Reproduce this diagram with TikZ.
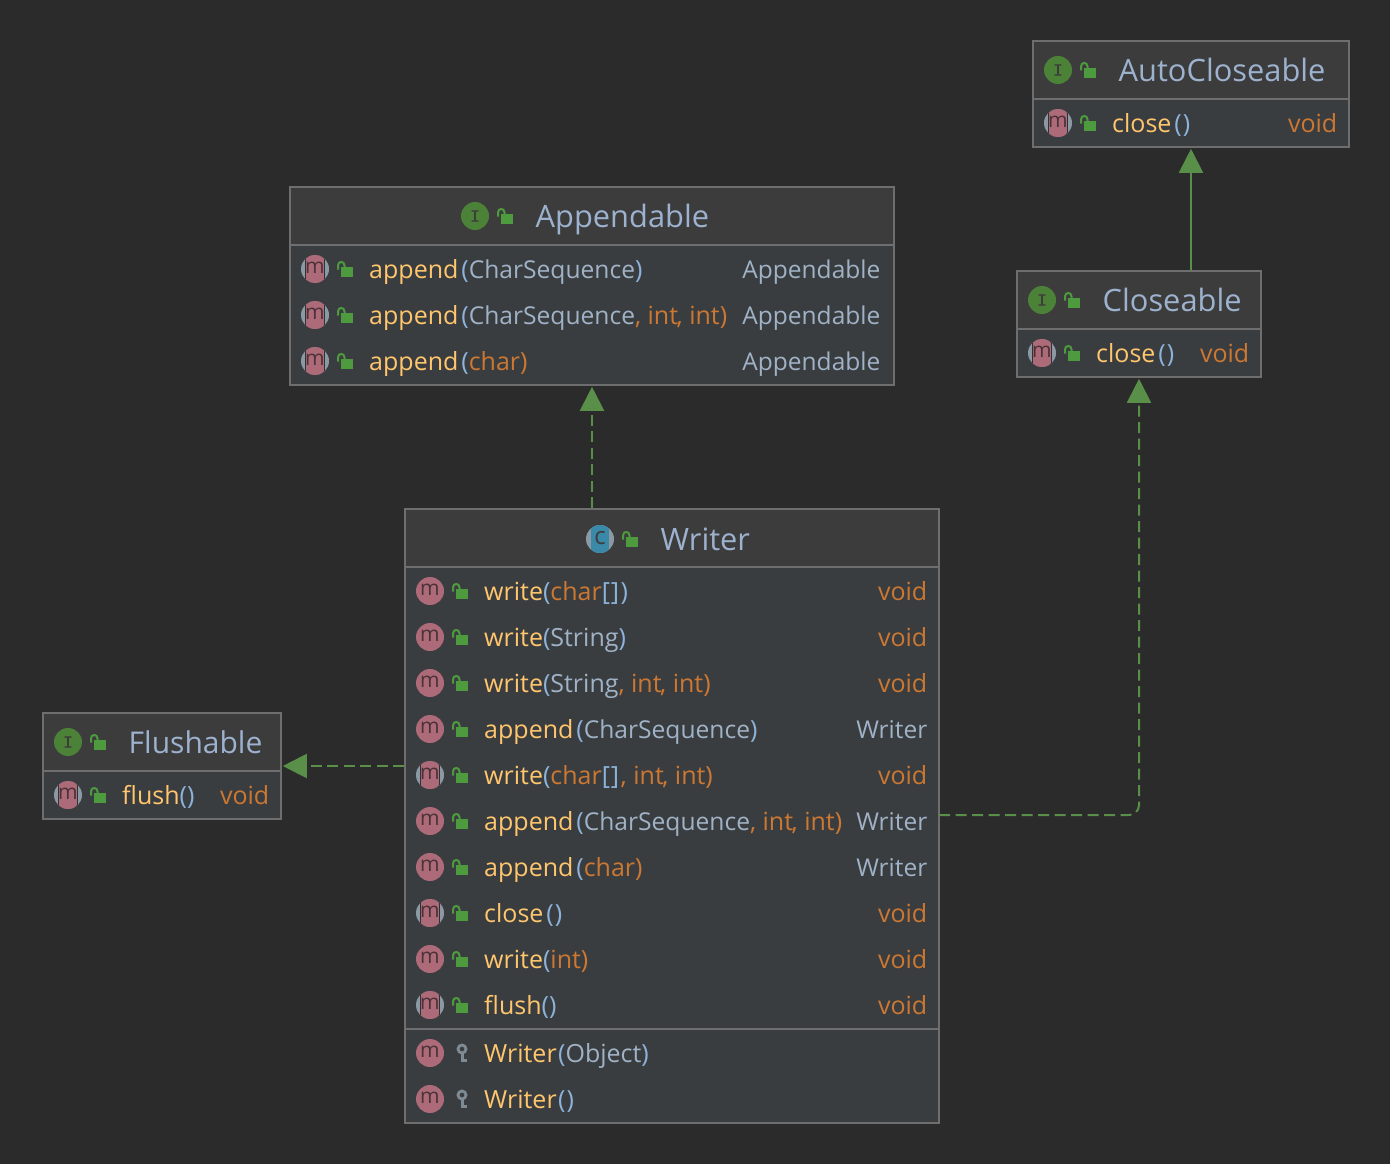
\documentclass[tikz,border=0pt]{standalone}
\usepackage{fontspec}
\setmainfont{Open Sans}
\newfontfamily\iconfont{Liberation Mono}[FakeBold=0.6]
\usepackage{tikz}
\usetikzlibrary{arrows.meta, calc}
\definecolor{canvasbg}{HTML}{2B2B2B}
\definecolor{headbg}{HTML}{3C3C3C}
\definecolor{bodybg}{HTML}{3A3D40}
\definecolor{boxline}{HTML}{6E6E6E}
\definecolor{titleblue}{HTML}{9DB2CE}
\definecolor{methodyellow}{HTML}{FFC66D}
\definecolor{typeorange}{HTML}{CC7832}
\definecolor{paramgray}{HTML}{A0B2C6}
\definecolor{parenblue}{HTML}{8DB3DA}
\definecolor{rowpink}{HTML}{AD6A78}
\definecolor{letterdark}{HTML}{4A3238}
\definecolor{ifacegreen}{HTML}{4C8238}
\definecolor{lockgreen}{HTML}{4E9A3E}
\definecolor{ringgray}{HTML}{8B99A4}
\definecolor{classteal}{HTML}{3A89A9}
\definecolor{keygray}{HTML}{7F8B94}
\definecolor{edgegreen}{HTML}{5A8F4A}
\tikzset{
  fit width/.code 2 args={\pgfmathsetmacro\boxw{#2-#1}\tikzset{minimum width=\boxw pt}},
  titletext/.style={anchor=base west, inner sep=0pt, text=titleblue,
    font=\fontsize{30.8}{36}\selectfont},
  membertext/.style={anchor=base west, inner sep=0pt, text=paramgray,
    font=\fontsize{25}{30}\selectfont},
  returntext/.style={anchor=base east, inner sep=0pt,
    font=\fontsize{25}{30}\selectfont},
  iconletter/.style={inner sep=0pt, font=\iconfont\fontsize{#1}{#1}\selectfont},
  iconround/.style={inner sep=0pt, font=\fontsize{#1}{#1}\selectfont},
  umlbox/.style={rectangle, draw=boxline, line width=1.6pt, inner sep=0pt},
  realizes/.style={-{Triangle[length=24pt,width=24pt]}, color=edgegreen,
    line width=2pt, dash pattern=on 11pt off 5.5pt, shorten >=1pt},
  extends/.style={-{Triangle[length=24pt,width=24pt]}, color=edgegreen,
    line width=2pt, shorten >=1pt},
  pics/lockopen/.style={code={
    \fill[lockgreen] (-4,-2) rectangle (8,8);
    \draw[lockgreen, line width=2pt] (-7,0.5) -- (-7,-3.5)
      .. controls (-7,-8.2) and (-0.5,-8.2) .. (-0.5,-3.5) -- (-0.5,-1.5);
  }},
  pics/keyicon/.style={code={
    \draw[keygray, line width=2.8pt] (2,-4) circle[radius=4pt];
    \draw[keygray, line width=3pt] (2,0) -- (2,9) (2,7.5) -- (6.5,7.5);
  }},
  pics/mplain/.style={code={
    \fill[rowpink] (0,0) circle[radius=14pt];
    \node[iconround=21, text=letterdark] (-l) at (0,-1) {m};
  }},
  pics/mabstract/.style={code={
    \fill[ringgray] (0,0) circle[radius=14pt];
    \begin{scope}
      \clip (0,0) circle[radius=14pt];
      \fill[canvasbg!60!bodybg] (-10,-14) rectangle (10,14);
      \fill[rowpink] (-9,-14) rectangle (9,14);
    \end{scope}
    \node[iconround=21, text=letterdark] (-l) at (0,-1) {m};
  }},
  pics/ifaceicon/.style={code={
    \fill[ifacegreen] (0,0) circle[radius=14pt];
    \node[iconletter=17, text=headbg] (-l) at (0,0) {I};
  }},
  pics/classicon/.style={code={
    \fill[ringgray] (0,0) circle[radius=14pt];
    \begin{scope}
      \clip (0,0) circle[radius=14pt];
      \fill[classteal] (-9,-14) rectangle (9,14);
    \end{scope}
    \node[iconround=24, text=headbg] (-l) at (0,-1) {c};
  }},
}
% text colours for the parts of a signature
\newcommand{\mname}[1]{\textcolor{methodyellow}{#1}}
\newcommand{\kwd}[1]{\textcolor{typeorange}{#1}}
\newcommand{\pbr}[1]{\textcolor{parenblue}{#1}}
\newcommand{\gap}{\kern3pt}
\newcommand{\cseq}{{\fontsize{24.6}{30}\selectfont CharSequence}}
\newcommand{\intpair}{\kwd{, int\kern-1.5pt, int)}}
\newcommand{\rtype}[1]{\textcolor{paramgray}{\fontsize{24.5}{30}\selectfont #1}}
% class box: name, left, top, right, bottom, y of the title rule
\newcommand{\classbox}[6]{
  \fill[bodybg] (#2,#3) rectangle (#4,#5);
  \fill[headbg] (#2,#3) rectangle (#4,#6);
  \pgfmathsetmacro\boxh{#5-#3}
  \node[umlbox, fit width={#2}{#4}, minimum height=\boxh pt] (#1) at ({(#2+#4)/2},{(#3+#5)/2}) {};
  \draw[boxline, line width=2pt] (#2,#6) -- (#4,#6);
}
% title line: name, icon pic, icon x, y, title
\newcommand{\titlerow}[5]{
  \pic (#1i) at (#3,#4) {#2};
  \pic (#1k) at (#3+30,#4) {lockopen};
  \node[titletext] (#1t) at (#3+60.5,#4+11.8) {#5};
}
% member line: name, icon pic, access pic, left x, right x, y, signature, return type
\newcommand{\memberrow}[8]{
  \pic (#1i) at (#4+25,#6) {#2};
  \pic (#1k) at (#4+55,#6) {#3};
  \node[membertext] (#1s) at (#4+79,#6+9.3) {#7};
  \node[returntext] (#1r) at (#5+0.5,#6+9.3) {#8};
}
\begin{document}
\begin{tikzpicture}[x=1pt,y=-1pt]
  \fill[canvasbg] (0,0) rectangle (1390,1164);
  \useasboundingbox (0,0) rectangle (1390,1164);

  % AutoCloseable
  \classbox{autocloseable}{1033}{41}{1349}{147}{99}
  \titlerow{ac}{ifaceicon}{1058}{70}{AutoCloseable}
  \memberrow{aca}{mabstract}{lockopen}{1033}{1337}{123}{\mname{close}\gap\pbr{(\kern1pt)}}{\kwd{void}}

  % Closeable
  \classbox{closeable}{1017}{271}{1261}{377}{329}
  \titlerow{cl}{ifaceicon}{1042}{300}{Closeable}
  \memberrow{cla}{mabstract}{lockopen}{1017}{1249}{353}{\mname{close}\gap\pbr{(\kern1pt)}}{\kwd{void}}

  % Appendable
  \classbox{appendable}{290}{187}{894}{385}{245}
  \titlerow{ap}{ifaceicon}{475}{216}{Appendable}
  \memberrow{apa}{mabstract}{lockopen}{290}{880}{269}{\mname{append}\gap\pbr{(}\cseq\pbr{)}}{\rtype{Appendable}}
  \memberrow{apb}{mabstract}{lockopen}{290}{880}{315}{\mname{append}\gap\pbr{(}\cseq\intpair}{\rtype{Appendable}}
  \memberrow{apc}{mabstract}{lockopen}{290}{880}{361}{\mname{append}\gap\pbr{(}\kwd{char)}}{\rtype{Appendable}}

  % Flushable
  \classbox{flushable}{43}{713}{281}{819}{771}
  \titlerow{fl}{ifaceicon}{68}{742}{{\fontsize{30}{36}\selectfont Flushable}}
  \memberrow{fla}{mabstract}{lockopen}{43}{269}{795}{\mname{flush}\pbr{()}}{\kwd{void}}

  % Writer
  \classbox{writer}{405}{509}{939}{1123}{567}
  \draw[boxline, line width=2pt] (405,1029) -- (939,1029);
  \titlerow{wr}{classicon}{600}{539}{Writer}
  \memberrow{wra}{mplain}{lockopen}{405}{927}{591}{\mname{write}\pbr{(}\kwd{char}\pbr{[\kern1pt]\kern1.5pt)}}{\kwd{void}}
  \memberrow{wrb}{mplain}{lockopen}{405}{927}{637}{\mname{write}\pbr{(}String\pbr{)}}{\kwd{void}}
  \memberrow{wrc}{mplain}{lockopen}{405}{927}{683}{\mname{write}\pbr{(}String\intpair}{\kwd{void}}
  \memberrow{wrd}{mplain}{lockopen}{405}{927}{729}{\mname{append}\gap\pbr{(}\cseq\pbr{)}}{\rtype{Writer}}
  \memberrow{wre}{mabstract}{lockopen}{405}{927}{775}{\mname{write}\pbr{(}\kwd{char}\pbr{[\kern1pt]}\kern1.5pt\intpair}{\kwd{void}}
  \memberrow{wrf}{mplain}{lockopen}{405}{927}{821}{\mname{append}\gap\pbr{(}\cseq\intpair}{\rtype{Writer}}
  \memberrow{wrg}{mplain}{lockopen}{405}{927}{867}{\mname{append}\gap\pbr{(}\kwd{char)}}{\rtype{Writer}}
  \memberrow{wrh}{mabstract}{lockopen}{405}{927}{913}{\mname{close}\gap\pbr{(\kern1pt)}}{\kwd{void}}
  \memberrow{wri}{mplain}{lockopen}{405}{927}{959}{\mname{write}\pbr{(}\kwd{int)}}{\kwd{void}}
  \memberrow{wrj}{mabstract}{lockopen}{405}{927}{1005}{\mname{flush}\pbr{()}}{\kwd{void}}
  \memberrow{wrk}{mplain}{keyicon}{405}{927}{1053}{\mname{Writer}\kern1.5pt\pbr{(}Object\pbr{)}}{}
  \memberrow{wrl}{mplain}{keyicon}{405}{927}{1099}{\mname{Writer}\kern1.5pt\pbr{(\kern1pt)}}{}

  % inheritance edges
  \draw[extends] (autocloseable.south |- closeable.north) -- (autocloseable.south);
  \draw[realizes] (appendable.south |- writer.north) -- (appendable.south);
  \draw[realizes] (flushable.east -| writer.west) -- (flushable.east);
  \coordinate (writerout) at (939,815);
  \draw[realizes, rounded corners=10pt] (writerout) -| (closeable.south);
\end{tikzpicture}
\end{document}
